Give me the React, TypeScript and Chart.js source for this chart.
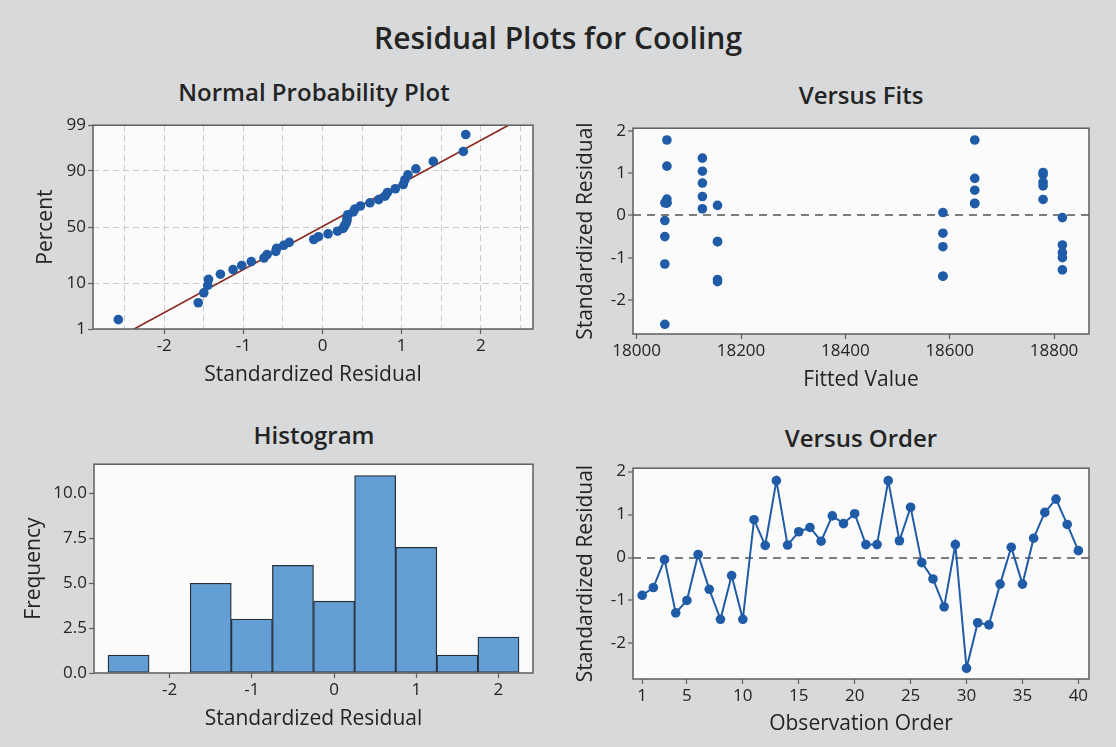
import React, { useEffect, useRef } from 'react';
import { Chart, registerables } from 'chart.js';

Chart.register(...registerables);

// ---------------- data ----------------
// Normal probability plot: sorted standardized residuals and their plotted percents
const NORMAL_RESID = [
  -2.58, -1.57, -1.5, -1.45, -1.44, -1.29, -1.13, -1.02, -0.9, -0.74,
  -0.7, -0.59, -0.58, -0.49, -0.42, -0.11, -0.05, 0.07, 0.19, 0.26,
  0.28, 0.3, 0.31, 0.31, 0.32, 0.39, 0.41, 0.48, 0.6, 0.71,
  0.79, 0.82, 0.92, 1.02, 1.04, 1.08, 1.18, 1.4, 1.78, 1.81,
];
const NORMAL_PCT = [
  1.73, 4.21, 6.68, 9.16, 11.63, 14.11, 16.58, 19.06, 21.53, 24.01,
  26.49, 28.96, 31.44, 33.91, 36.39, 38.86, 41.34, 43.81, 46.29, 48.76,
  51.24, 53.71, 56.19, 58.66, 61.14, 63.61, 66.09, 68.56, 71.04, 73.51,
  75.99, 78.47, 80.94, 83.42, 85.89, 88.37, 90.84, 93.32, 95.79, 98.27,
];
const FIT_LINE_RESID = [-2.38, 2.35];
const FIT_LINE_PCT = [1, 99];
const PCT_TICKS = [1, 10, 50, 90, 99];
const NPP_X_GRID = [-2.5, -2, -1.5, -1, -0.5, 0, 0.5, 1, 1.5, 2, 2.5];

// Observations (order), fitted values and standardized residuals
const OBS = [
  1, 2, 3, 4, 5, 6, 7, 8, 9, 10, 11, 12, 13, 14, 15, 16, 17, 18, 19, 20,
  21, 22, 23, 24, 25, 26, 27, 28, 29, 30, 31, 32, 33, 34, 35, 36, 37, 38, 39, 40,
];
const FITTED = [
  18816, 18816, 18816, 18816, 18816,
  18587, 18587, 18587, 18587, 18587,
  18648, 18648, 18648, 18648, 18648,
  18779, 18779, 18779, 18779, 18779,
  18058, 18058, 18058, 18058, 18058,
  18054, 18054, 18054, 18054, 18054,
  18155, 18155, 18155, 18155, 18155,
  18126, 18126, 18126, 18126, 18126,
];
const RESIDUALS = [
  -0.88, -0.7, -0.05, -1.29, -1.0, 0.07, -0.74, -1.44, -0.42, -1.44,
  0.88, 0.28, 1.79, 0.29, 0.6, 0.7, 0.38, 0.97, 0.79, 1.02,
  0.3, 0.3, 1.79, 0.39, 1.17, -0.12, -0.5, -1.15, 0.3, -2.58,
  -1.52, -1.57, -0.62, 0.24, -0.62, 0.45, 1.05, 1.36, 0.77, 0.16,
];

// Histogram
const HIST_MIDS = [-2.5, -2, -1.5, -1, -0.5, 0, 0.5, 1, 1.5, 2];
const HIST_COUNTS = [1, 0, 5, 3, 6, 4, 11, 7, 1, 2];
const HIST_X_TICKS = [-2, -1, 0, 1, 2];
const HIST_Y_TICKS = [0, 2.5, 5, 7.5, 10];

const RESID_TICKS = [-2, -1, 0, 1, 2];
const FITS_X_TICKS = [18000, 18200, 18400, 18600, 18800];
const ORDER_TICKS = [1, 5, 10, 15, 20, 25, 30, 35, 40];

// ---------------- style ----------------
const FONT = "'Open Sans', 'Noto Sans', sans-serif";
const TEXT = '#242424';
const BG = '#d7d9db';
const PLOT_BG = '#fbfbfb';
const FRAME = '#5e5e5e';
const BLUE = '#1f5ba6';
const BAR_FILL = '#639ed4';
const BAR_EDGE = '#26303a';
const FIT_RED = '#8a2b22';
const GRID = '#c9c9c9';
const REF = '#7d7d7d';

function normInv(p: number): number {
  const a = [-3.969683028665376e1, 2.209460984245205e2, -2.759285104469687e2, 1.38357751867269e2, -3.066479806614716e1, 2.506628277459239];
  const b = [-5.447609879822406e1, 1.615858368580409e2, -1.556989798598866e2, 6.680131188771972e1, -1.328068155288572e1];
  const c = [-7.784894002430293e-3, -3.223964580411365e-1, -2.400758277161838, -2.549732539343734, 4.374664141464968, 2.938163982698783];
  const d = [7.784695709041462e-3, 3.224671290700398e-1, 2.445134137142996, 3.754408661907416];
  const pl = 0.02425;
  if (p < pl) {
    const q = Math.sqrt(-2 * Math.log(p));
    return (((((c[0] * q + c[1]) * q + c[2]) * q + c[3]) * q + c[4]) * q + c[5]) / ((((d[0] * q + d[1]) * q + d[2]) * q + d[3]) * q + 1);
  }
  if (p > 1 - pl) {
    const q = Math.sqrt(-2 * Math.log(1 - p));
    return -(((((c[0] * q + c[1]) * q + c[2]) * q + c[3]) * q + c[4]) * q + c[5]) / ((((d[0] * q + d[1]) * q + d[2]) * q + d[3]) * q + 1);
  }
  const q = p - 0.5;
  const r = q * q;
  return ((((((a[0] * r + a[1]) * r + a[2]) * r + a[3]) * r + a[4]) * r + a[5]) * q) / (((((b[0] * r + b[1]) * r + b[2]) * r + b[3]) * r + b[4]) * r + 1);
}

const framePlugin = {
  id: 'frame',
  beforeDraw(chart: any) {
    const { ctx, chartArea: a } = chart;
    ctx.save();
    ctx.fillStyle = PLOT_BG;
    ctx.fillRect(a.left, a.top, a.right - a.left, a.bottom - a.top);
    ctx.restore();
  },
  afterDraw(chart: any) {
    const { ctx, chartArea: a } = chart;
    ctx.save();
    ctx.strokeStyle = FRAME;
    ctx.lineWidth = 1.5;
    ctx.strokeRect(a.left, a.top, a.right - a.left, a.bottom - a.top);
    ctx.restore();
  },
};

type AxisOpts = {
  min: number;
  max: number;
  ticks: number[];
  label: (v: number, i: number) => string;
  title: string;
  fit: number;
  x: boolean;
  grid?: (v: number) => string;
  gridWidth?: (v: number) => number;
  dash?: number[];
  tickMark?: (v: number) => string;
};

function makeScale(o: AxisOpts) {
  return {
    type: 'linear',
    position: o.x ? 'bottom' : 'left',
    min: o.min,
    max: o.max,
    offset: false,
    afterBuildTicks: (s: any) => {
      s.ticks = o.ticks.map((v) => ({ value: v }));
    },
    afterFit: (s: any) => {
      if (o.x) s.height = o.fit;
      else s.width = o.fit;
    },
    ticks: {
      callback: (v: any, i: number) => o.label(Number(v), i),
      color: TEXT,
      font: { family: FONT, size: 17 },
      padding: 2,
      autoSkip: false,
      maxRotation: 0,
    },
    grid: {
      offset: false,
      drawOnChartArea: !!o.grid,
      color: (c: any) => (o.grid && c.tick ? o.grid(c.tick.value) : 'transparent'),
      lineWidth: (c: any) => (o.gridWidth && c.tick ? o.gridWidth(c.tick.value) : 1),
      drawTicks: true,
      tickLength: 5,
      tickWidth: 1.2,
      tickColor: (c: any) => (o.tickMark && c.tick ? o.tickMark(c.tick.value) : FRAME),
    },
    border: { display: false, dash: o.dash ?? [] },
    title: {
      display: true,
      text: o.title,
      color: TEXT,
      font: { family: FONT, size: 21 },
      padding: { top: 4, bottom: 4 },
    },
  };
}

const zeroLine = (v: number) => (v === 0 ? REF : 'transparent');

const baseOptions = (pad: { top: number; right: number }) => ({
  responsive: false,
  animation: false,
  events: [],
  layout: { padding: { top: pad.top, right: pad.right, left: 0, bottom: 0 } },
  plugins: { legend: { display: false }, tooltip: { enabled: false }, title: { display: false } },
});

function nppConfig(): any {
  return {
    type: 'scatter',
    data: {
      datasets: [
        {
          type: 'scatter',
          data: NORMAL_RESID.map((r, i) => ({ x: r, y: normInv(NORMAL_PCT[i] / 100) })),
          pointRadius: 4.8,
          pointBackgroundColor: BLUE,
          pointBorderWidth: 0,
          order: 0,
        },
        {
          type: 'line',
          data: FIT_LINE_RESID.map((r, i) => ({ x: r, y: normInv(FIT_LINE_PCT[i] / 100) })),
          borderColor: FIT_RED,
          borderWidth: 1.6,
          pointRadius: 0,
          order: 1,
        },
      ],
    },
    options: {
      ...baseOptions({ top: 12, right: 16 }),
      scales: {
        x: makeScale({
          min: -2.9, max: 2.66, ticks: NPP_X_GRID, x: true, fit: 63,
          label: (v) => (Number.isInteger(v) ? String(v) : ''),
          title: 'Standardized Residual',
          grid: () => GRID, dash: [6, 4],
          tickMark: (v) => (Number.isInteger(v) ? FRAME : 'transparent'),
        }),
        y: makeScale({
          min: normInv(PCT_TICKS[0] / 100), max: normInv(PCT_TICKS[PCT_TICKS.length - 1] / 100),
          ticks: PCT_TICKS.map((p) => normInv(p / 100)), x: false, fit: 64,
          label: (_v, i) => String(PCT_TICKS[i]),
          title: 'Percent',
          grid: () => GRID, dash: [6, 4],
        }),
      },
    },
    plugins: [framePlugin],
  };
}

function fitsConfig(): any {
  return {
    type: 'scatter',
    data: {
      datasets: [
        {
          data: FITTED.map((f, i) => ({ x: f, y: RESIDUALS[i] })),
          pointRadius: 4.8,
          pointBackgroundColor: BLUE,
          pointBorderWidth: 0,
        },
      ],
    },
    options: {
      ...baseOptions({ top: 12, right: 16 }),
      scales: {
        x: makeScale({
          min: 17993, max: 18867, ticks: FITS_X_TICKS, x: true, fit: 63,
          label: (v) => String(v), title: 'Fitted Value',
        }),
        y: makeScale({
          min: -2.81, max: 2.07, ticks: RESID_TICKS, x: false, fit: 64,
          label: (v) => String(v), title: 'Standardized Residual',
          grid: zeroLine, gridWidth: () => 2, dash: [8, 6],
        }),
      },
    },
    plugins: [framePlugin],
  };
}

function histConfig(): any {
  return {
    type: 'bar',
    data: {
      datasets: [
        {
          data: HIST_MIDS.map((m, i) => ({ x: m, y: HIST_COUNTS[i] })),
          backgroundColor: BAR_FILL,
          borderColor: BAR_EDGE,
          borderWidth: 1.3,
          borderSkipped: false,
          barPercentage: 1,
          categoryPercentage: 1,
        },
      ],
    },
    options: {
      ...baseOptions({ top: 12, right: 16 }),
      scales: {
        x: makeScale({
          min: -2.92, max: 2.42, ticks: HIST_X_TICKS, x: true, fit: 63,
          label: (v) => String(v), title: 'Standardized Residual',
        }),
        y: makeScale({
          min: 0, max: 11.63, ticks: HIST_Y_TICKS, x: false, fit: 77,
          label: (v) => v.toFixed(1), title: 'Frequency',
        }),
      },
    },
    plugins: [framePlugin],
  };
}

function orderConfig(): any {
  return {
    type: 'line',
    data: {
      datasets: [
        {
          data: OBS.map((o, i) => ({ x: o, y: RESIDUALS[i] })),
          borderColor: BLUE,
          borderWidth: 2,
          tension: 0,
          pointRadius: 4.8,
          pointBackgroundColor: BLUE,
          pointBorderWidth: 0,
        },
      ],
    },
    options: {
      ...baseOptions({ top: 12, right: 16 }),
      scales: {
        x: makeScale({
          min: 0.18, max: 40.95, ticks: ORDER_TICKS, x: true, fit: 62,
          label: (v) => String(v), title: 'Observation Order',
        }),
        y: makeScale({
          min: -2.83, max: 2.08, ticks: RESID_TICKS, x: false, fit: 64,
          label: (v) => String(v), title: 'Standardized Residual',
          grid: zeroLine, gridWidth: () => 2, dash: [8, 6],
        }),
      },
    },
    plugins: [framePlugin],
  };
}

function Panel(props: { make: () => any; left: number; top: number; width: number; height: number }) {
  const ref = useRef<HTMLCanvasElement>(null);
  useEffect(() => {
    if (!ref.current) return;
    const chart = new Chart(ref.current, props.make());
    return () => chart.destroy();
  }, []);
  return (
    <canvas
      ref={ref}
      width={props.width}
      height={props.height}
      style={{ position: 'absolute', left: props.left, top: props.top, width: props.width, height: props.height }}
    />
  );
}

function Title(props: { text: string; cx: number; baseline: number; size: number }) {
  return (
    <div
      style={{
        position: 'absolute',
        left: props.cx - 400,
        width: 800,
        top: props.baseline - 0.888 * props.size,
        textAlign: 'center',
        fontSize: props.size,
        lineHeight: 1,
        fontWeight: 600,
        fontFamily: FONT,
        color: TEXT,
        whiteSpace: 'nowrap',
      }}
    >
      {props.text}
    </div>
  );
}

export default function App() {
  return (
    <div
      style={{
        position: 'fixed',
        left: 0,
        top: 0,
        width: 1116,
        height: 747,
        background: BG,
        overflow: 'hidden',
      }}
    >
      <Title text="Residual Plots for Cooling" cx={558} baseline={50} size={30} />
      <Title text="Normal Probability Plot" cx={314} baseline={101} size={24} />
      <Title text="Versus Fits" cx={861} baseline={104} size={24} />
      <Title text="Histogram" cx={314} baseline={444} size={24} />
      <Title text="Versus Order" cx={861} baseline={447} size={24} />
      <Panel make={nppConfig} left={29} top={113} width={520} height={279} />
      <Panel make={fitsConfig} left={569} top={116} width={536} height={281} />
      <Panel make={histConfig} left={17} top={452} width={532} height={284} />
      <Panel make={orderConfig} left={569} top={456} width={536} height={285} />
    </div>
  );
}
